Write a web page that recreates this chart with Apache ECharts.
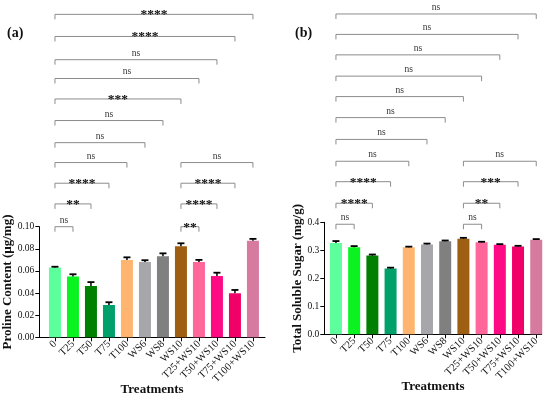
<!DOCTYPE html>
<html>
<head>
<meta charset="utf-8">
<script src="https://cdn.jsdelivr.net/npm/echarts@6/dist/echarts.min.js"></script>
<style>html,body{margin:0;padding:0;background:#fff}#c{width:550px;height:396px}</style>
</head>
<body>
<div id="c"></div>
<script>
const categories = ['0','T25','T50','T75','T100','WS6','WS8','WS10','T25+WS10','T50+WS10','T75+WS10','T100+WS10'];
const barColors = ['#5CFF9B','#0AF321','#008000','#00A06A','#FFB570','#A6A6AB','#808080','#9E5F12','#FF6699','#FF0A85','#F00068','#D67B9F'];

const prolineMean = [0.063,0.055,0.0464,0.0292,0.0700,0.0680,0.0732,0.0823,0.0680,0.0554,0.0398,0.0872];
const prolineErr  = [0.0008,0.0020,0.0035,0.0025,0.0023,0.0017,0.0027,0.0027,0.0020,0.0030,0.0030,0.0018];
const prolineTicks = [0,0.02,0.04,0.06,0.08,0.10];

const sugarMean = [0.326,0.311,0.281,0.235,0.311,0.321,0.332,0.3415,0.3285,0.320,0.314,0.338];
const sugarErr  = [0.007,0.004,0.004,0.003,0.002,0.003,0.003,0.003,0.002,0.002,0.002,0.002];
const sugarTicks = [0,0.1,0.2,0.3,0.4];

// [from index, to index, bracket level (data units), significance]
const bracketsA = [
  [0,1,0.100,'ns'],[0,2,0.1206,'**'],[0,3,0.1393,'****'],[0,4,0.158,'ns'],[0,5,0.176,'ns'],
  [0,6,0.196,'ns'],[0,7,0.2155,'***'],[0,8,0.234,'ns'],[0,9,0.251,'ns'],[0,10,0.272,'****'],[0,11,0.292,'****'],
  [7,8,0.100,'**'],[7,9,0.1206,'****'],[7,10,0.1393,'****'],[7,11,0.158,'ns']
];
const bracketsB = [
  [0,1,0.393,'ns'],[0,2,0.468,'****'],[0,3,0.545,'****'],[0,4,0.618,'ns'],[0,5,0.696,'ns'],
  [0,6,0.774,'ns'],[0,7,0.849,'ns'],[0,8,0.922,'ns'],[0,9,0.998,'ns'],[0,10,1.071,'ns'],[0,11,1.144,'ns'],
  [7,8,0.393,'ns'],[7,9,0.468,'**'],[7,10,0.545,'***'],[7,11,0.618,'ns']
];

const FONT = "'Liberation Serif','Times New Roman',serif";
const idx = categories.map((c,i)=>i);

function barSeries(mean, gi){
  return {
    type:'bar', xAxisIndex:gi, yAxisIndex:gi, barWidth:12, silent:true,
    data: mean.map((v,i)=>({value:[i,v], itemStyle:{color:barColors[i]}}))
  };
}
function errSeries(mean, err, gi){
  return {
    type:'custom', xAxisIndex:gi, yAxisIndex:gi, silent:true, z:5,
    data: mean.map((v,i)=>[i, v, v+err[i]]),
    renderItem:function(params, api){
      const a = api.coord([api.value(0), api.value(1)]);
      const b = api.coord([api.value(0), api.value(2)]);
      return {type:'group', children:[
        {type:'line', shape:{x1:a[0],y1:a[1],x2:b[0],y2:b[1]}, style:{stroke:'#000',lineWidth:1.5}},
        {type:'line', shape:{x1:b[0]-3.5,y1:b[1],x2:b[0]+3.5,y2:b[1]}, style:{stroke:'#000',lineWidth:1.8}}
      ]};
    }
  };
}
function bracketSeries(list, gi){
  return {
    type:'custom', xAxisIndex:gi, yAxisIndex:gi, silent:true, clip:false, z:6,
    data: list.map(b=>[b[0],b[1],b[2]]),
    renderItem:function(params, api){
      const lab = list[params.dataIndex][3];
      const p1 = api.coord([api.value(0), api.value(2)]);
      const p2 = api.coord([api.value(1), api.value(2)]);
      const isNs = lab === 'ns';
      return {type:'group', children:[
        {type:'polyline', shape:{points:[[p1[0],p1[1]+5],[p1[0],p1[1]],[p2[0],p2[1]],[p2[0],p2[1]+5]]},
         style:{stroke:'#8c8c8c', lineWidth:1, fill:null}},
        {type:'text', x:(p1[0]+p2[0])/2, y: isNs ? p1[1]-1.5 : p1[1]+0.5,
         style:{text:lab, fill: isNs ? '#333' : '#111', align:'center', verticalAlign: isNs ? 'bottom' : 'middle',
           font: isNs ? ('9.5px ' + FONT) : ('bold 13.5px ' + FONT)}}
      ]};
    }
  };
}
function xAxisCfg(gi, min, max, gap){
  return {
    type:'value', gridIndex:gi, min:min, max:max,
    splitLine:{show:false},
    axisLine:{show:true, onZero:false, lineStyle:{color:'#000', width:1}},
    axisTick:{show:true, customValues: idx, length:4, lineStyle:{color:'#000'}},
    axisLabel:{customValues: idx, rotate:45, margin:5, color:'#111', fontFamily:FONT, fontSize:10.5,
      formatter:function(v){ return categories[Math.round(v)]; }},
    name:'Treatments', nameLocation:'middle', nameGap:gap, nameMoveOverlap:false,
    nameTextStyle:{fontFamily:FONT, fontWeight:'bold', fontSize:13, color:'#111'}
  };
}
function yAxisCfg(gi, max, interval, dec, name, gap){
  return {
    type:'value', gridIndex:gi, min:0, max:max, interval:interval,
    splitLine:{show:false},
    axisLine:{show:true, onZero:false, lineStyle:{color:'#000', width:1}},
    axisTick:{show:true, length:4, lineStyle:{color:'#000'}},
    axisLabel:{margin:5, color:'#111', fontFamily:FONT, fontSize:9.5,
      formatter:function(v){ return v.toFixed(dec); }},
    name:name, nameLocation:'middle', nameGap:gap, nameMoveOverlap:false,
    nameTextStyle:{fontFamily:FONT, fontWeight:'bold', fontSize:13, color:'#111'}
  };
}

const chart = echarts.init(document.getElementById('c'), null, {renderer:'canvas'});
chart.setOption({
  animation:false,
  backgroundColor:'#fff',
  title:[
    {text:'(a)', left:2, top:21, textStyle:{fontFamily:FONT, fontWeight:'bold', fontSize:14, color:'#111'}},
    {text:'(b)', left:290, top:21, textStyle:{fontFamily:FONT, fontWeight:'bold', fontSize:14, color:'#111'}}
  ],
  grid:[
    {left:39.3, top:226.7, width:225.7, height:110.6, containLabel:false, outerBoundsMode:'none'},
    {left:324.3, top:222.3, width:217.4, height:112, containLabel:false, outerBoundsMode:'none'}
  ],
  xAxis:[ xAxisCfg(0, -0.87, 11.67, 45.5), xAxisCfg(1, -0.64, 11.3, 46) ],
  yAxis:[
    yAxisCfg(0, prolineTicks[prolineTicks.length-1], prolineTicks[1]-prolineTicks[0], 2, 'Proline Content (µg/mg)', 25),
    yAxisCfg(1, sugarTicks[sugarTicks.length-1], sugarTicks[1]-sugarTicks[0], 1, 'Total Soluble Sugar (mg/g)', 20)
  ],
  series:[
    barSeries(prolineMean,0), errSeries(prolineMean,prolineErr,0), bracketSeries(bracketsA,0),
    barSeries(sugarMean,1), errSeries(sugarMean,sugarErr,1), bracketSeries(bracketsB,1)
  ]
});
</script>
</body>
</html>
